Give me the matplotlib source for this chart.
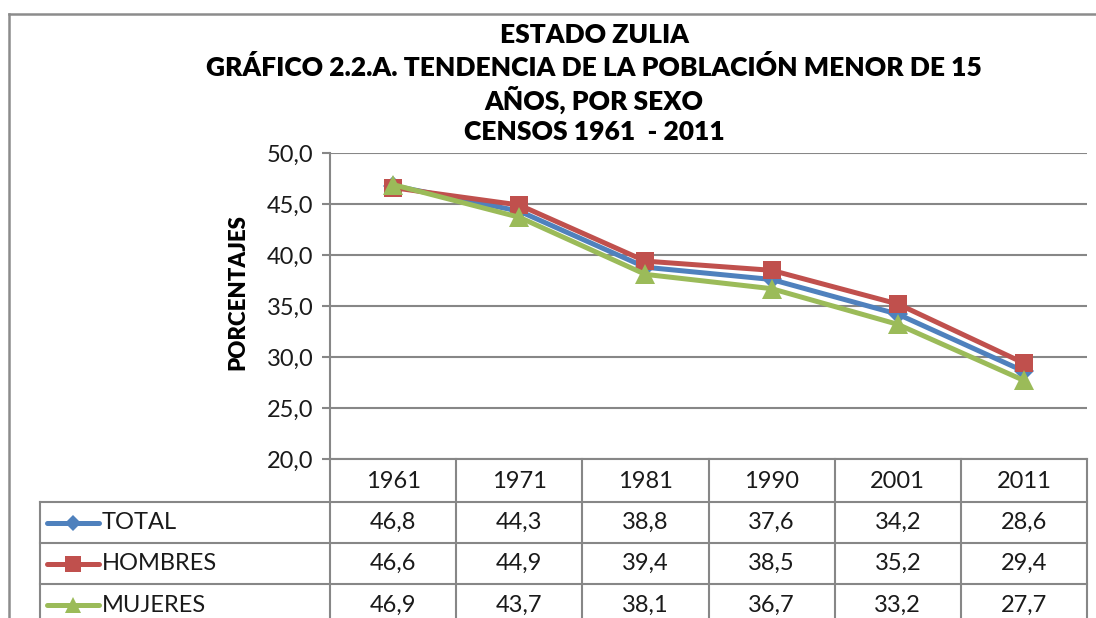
import matplotlib
matplotlib.use("Agg")
import matplotlib.pyplot as plt
from matplotlib.lines import Line2D

plt.rcParams['font.family'] = ['Lato', 'DejaVu Sans']

years = ['1961', '1971', '1981', '1990', '2001', '2011']
total = [46.8, 44.3, 38.8, 37.6, 34.2, 28.6]
hombres = [46.6, 44.9, 39.4, 38.5, 35.2, 29.4]
mujeres = [46.9, 43.7, 38.1, 36.7, 33.2, 27.7]
series_names = ['TOTAL', 'HOMBRES', 'MUJERES']
yticks = [20, 25, 30, 35, 40, 45, 50]

colors = ['#4F81BD', '#C0504D', '#9BBB59']
markers = ['D', 's', '^']
msizes = [10, 13, 14]

W, H = 1096, 618
fig = plt.figure(figsize=(W / 100, H / 100), dpi=100)


def fx(x):
    return x / W


def fy(y):
    return 1 - y / H


def fmt(v):
    return ('%.1f' % v).replace('.', ',')


grid_col = '#878787'
txt_col = '#1a1a1a'
fs = 17

# outer chart frame (only top and left visible)
fig.add_artist(Line2D([fx(9), fx(W)], [fy(14), fy(14)], color='#8c8c8c', lw=1.8))
fig.add_artist(Line2D([fx(9), fx(9)], [fy(14), fy(H)], color='#8c8c8c', lw=1.8))

# plot area
left, right, top, bottom = 330, 1087, 153, 459
ax = fig.add_axes([fx(left), fy(bottom), fx(right - left), (bottom - top) / H])
x = list(range(len(years)))
for vals, c, m, ms in zip([total, hombres, mujeres], colors, markers, msizes):
    ax.plot(x, vals, color=c, lw=3.6, marker=m, markersize=ms, markeredgewidth=0, zorder=3)

ax.set_xlim(-0.5, len(years) - 0.5)
ax.set_ylim(20, 50)
ax.set_yticks(yticks)
ax.set_yticklabels([fmt(v) for v in yticks])
ax.set_xticks([])
ax.tick_params(axis='y', length=6, width=1.5, color=grid_col, labelsize=fs, pad=6, labelcolor=txt_col)
ax.grid(axis='y', color=grid_col, lw=1.5)
ax.set_axisbelow(True)
for s in ['top', 'right', 'bottom']:
    ax.spines[s].set_visible(False)
ax.spines['left'].set_color(grid_col)
ax.spines['left'].set_linewidth(1.5)

fig.text(fx(238), fy(292), 'PORCENTAJES', rotation=90, ha='center', va='center',
         fontsize=16, fontweight='heavy', color='#000000')

# title
title_lines = ['ESTADO ZULIA',
               'GRÁFICO 2.2.A. TENDENCIA DE LA POBLACIÓN MENOR DE 15',
               'AÑOS, POR SEXO',
               'CENSOS 1961  - 2011']
for i, t in enumerate(title_lines):
    fig.text(fx(594), fy(35 + i * 32.5), t, ha='center', va='center',
             fontsize=19, fontweight='heavy', color='#000000')

# data table
col_w = (right - left) / len(years)
row_y = [459, 502, 543, 584, 625]
tbl_left = 40


def hline(x0, x1, y):
    fig.add_artist(Line2D([fx(x0), fx(x1)], [fy(y), fy(y)], color=grid_col, lw=1.5))


def vline(xv, y0, y1):
    fig.add_artist(Line2D([fx(xv), fx(xv)], [fy(y0), fy(y1)], color=grid_col, lw=1.5))


hline(left, right, row_y[0])
for yv in row_y[1:4]:
    hline(tbl_left, right, yv)
vline(tbl_left, row_y[1], H)
for i in range(len(years) + 1):
    vline(left + i * col_w, row_y[0], H)

for i, yr in enumerate(years):
    fig.text(fx(left + (i + 0.5) * col_w), fy((row_y[0] + row_y[1]) / 2 + 1), yr,
             ha='center', va='center', fontsize=fs, color=txt_col)

for r, (name, vals, c, m, ms) in enumerate(zip(series_names, [total, hombres, mujeres],
                                               colors, markers, msizes)):
    yc = (row_y[r + 1] + row_y[r + 2]) / 2
    if r == 2:
        yc = row_y[3] + 21
    fig.add_artist(Line2D([fx(47), fx(99)], [fy(yc), fy(yc)], color=c, lw=3.6,
                          solid_capstyle='round'))
    fig.add_artist(Line2D([fx(73)], [fy(yc)], color=c, marker=m, markersize=ms * 0.85,
                          markeredgewidth=0))
    fig.text(fx(102), fy(yc), name, ha='left', va='center', fontsize=fs, color=txt_col)
    for i, v in enumerate(vals):
        fig.text(fx(left + (i + 0.5) * col_w), fy(yc), fmt(v),
                 ha='center', va='center', fontsize=fs, color=txt_col)

fig.savefig('out.png', dpi=100)
